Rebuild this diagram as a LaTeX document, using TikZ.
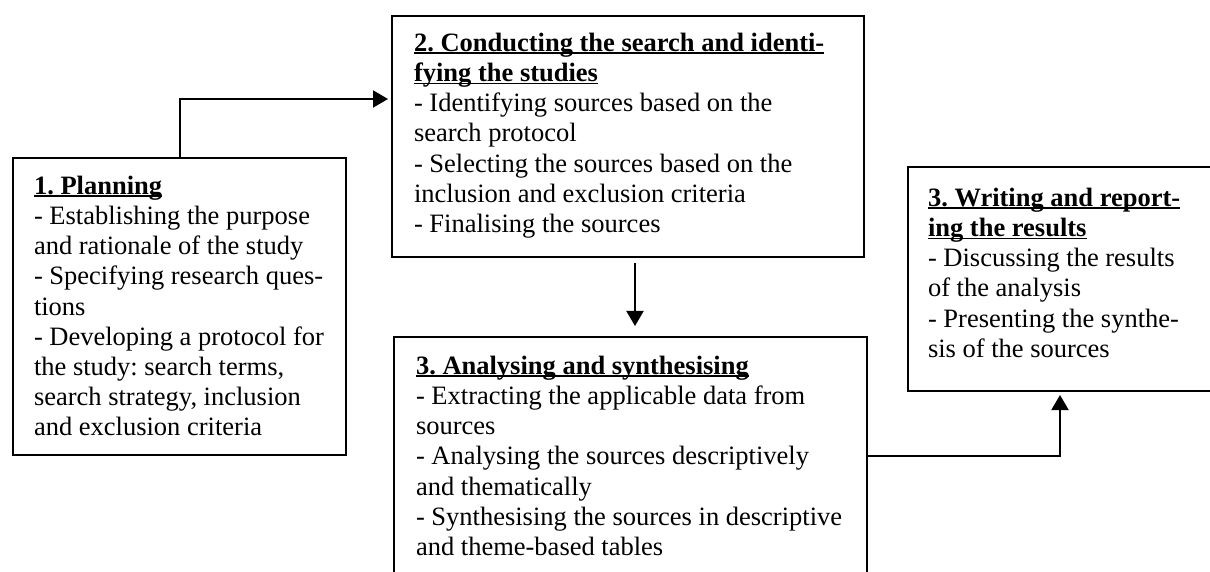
\documentclass[tikz,border=0pt]{standalone}
\usepackage{fontspec}
\setmainfont{Liberation Serif}
\usetikzlibrary{arrows.meta, positioning}
% underlined title line, the rule close under the baseline
\newcommand{\titleline}[1]{\setbox0\hbox{\bfseries #1}\rlap{\rule[-1.3pt]{\wd0}{0.8pt}}\box0}

\begin{document}
\begin{tikzpicture}[
            x = 0.5pt, y = -0.5pt, % one unit is one pixel, counted downwards
            > = {Triangle[length=7.5pt, width=8.5pt]}, % arrow head style
            shorten > = 1.5pt, % don't touch arrow head to box
            line width = 1pt % line style
        ]

        \tikzstyle{stagebox}=[
            draw = black,
            line width = 1pt,
            anchor = north west,
            inner sep = 0pt
        ]
        \tikzstyle{stagetext}=[
            anchor = north west,
            align = left,
            inner sep = 0pt,
            font = \fontsize{13.25}{15.1}\selectfont\frenchspacing
        ]

        \useasboundingbox (0,0) rectangle (1210,572);

        \node[stagebox, minimum width=166.5pt, minimum height=148.5pt] (plan) at (12,157) {};
        \node[stagebox, minimum width=236pt, minimum height=120.5pt] (search) at (391,15) {};
        \node[stagebox, minimum width=236.5pt, minimum height=120pt] (analyse) at (393,336) {};
        \node[stagebox, minimum width=152pt, minimum height=112pt] (write) at (907,166) {};

        \node[stagetext] (planT) at ([shift={(21,18)}]plan.north west) {%
            \titleline{1. Planning}\\
            - Establishing the purpose\\
            and rationale of the study\\
            - Specifying research ques-\\
            tions\\
            - Developing a protocol for\\
            the study: search terms,\\
            search strategy, inclusion\\
            and exclusion criteria};

        \node[stagetext] (searchT) at ([shift={(22,17)}]search.north west) {%
            \titleline{2. Conducting the search and identi-}\\
            \titleline{fying the studies}\\
            - Identifying sources based on the\\
            search protocol\\
            - Selecting the sources based on the\\
            inclusion and exclusion criteria\\
            - Finalising the sources};

        \node[stagetext] (analyseT) at ([shift={(22,19)}]analyse.north west) {%
            \titleline{3. Analysing and synthesising}\\
            - Extracting the applicable data from\\
            sources\\
            - Analysing the sources descriptively\\
            and thematically\\
            - Synthesising the sources in descriptive\\
            and theme-based tables};

        \node[stagetext] (writeT) at ([shift={(20,21)}]write.north west) {%
            \titleline{3. Writing and report-}\\
            \titleline{ing the results}\\
            - Discussing the results\\
            of the analysis\\
            - Presenting the synthe-\\
            sis of the sources};

        \draw[->] (plan.north) |- (search.west |- 0,99);
        \draw[->, shorten <= 2.5pt, shorten >= 5pt] (search.south -| 635,0) -- (analyse.north -| 635,0);
        \draw[->] (analyse.east |- 0,456) -| (write.south);
    \end{tikzpicture}
\end{document}
